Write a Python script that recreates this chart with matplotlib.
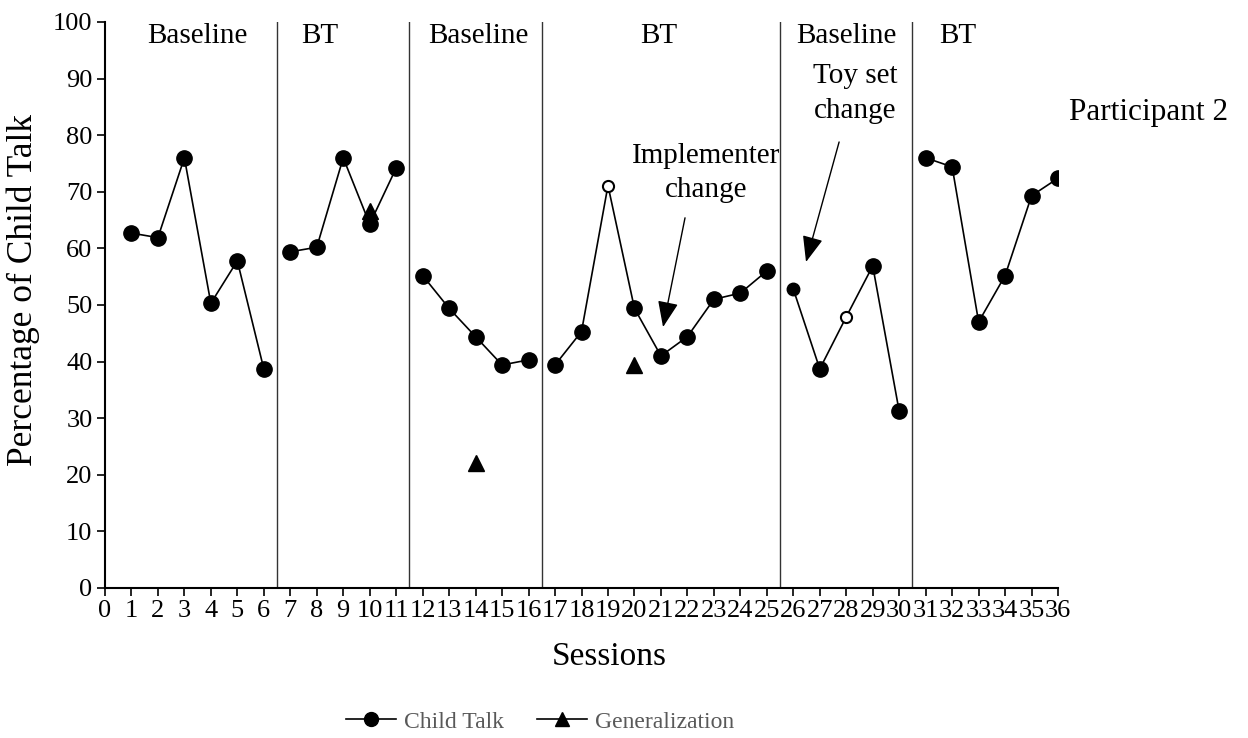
import numpy as np
import matplotlib
matplotlib.use("Agg")
import matplotlib.pyplot as plt
from matplotlib.lines import Line2D

plt.rcParams['font.family'] = ['Liberation Serif', 'DejaVu Serif']

# data
sessions = list(range(1, 37))
child_talk = [62.7, 61.9, 76.0, 50.3, 57.8, 38.7,
              59.4, 60.2, 76.0, 64.3, 74.2,
              55.2, 49.4, 44.4, 39.4, 40.3,
              39.4, 45.3, 71.1, 49.4, 41.0, 44.4, 51.0, 52.1, 56.0,
              52.8, 38.7, 47.9, 56.9, 31.2,
              76.0, 74.4, 47.0, 55.2, 69.3, 72.4]
open_sessions = [19, 28]
gen_sessions = [10, 14, 20]
gen_values = [66.6, 22.0, 39.4]

phase_breaks = [6.5, 11.5, 16.5, 25.5, 30.5]
phase_names = ["Baseline", "BT", "Baseline", "BT", "Baseline", "BT"]
phase_label_x = [3.5, 8.1, 14.1, 20.9, 28.0, 32.2]

fig = plt.figure(figsize=(12.48, 7.38), dpi=100)
ax = fig.add_axes([0.0841, 0.2033, 0.7637, 0.7669])

x = np.array(sessions)
y = np.array(child_talk)
edges = [0] + phase_breaks + [37]
for lo, hi in zip(edges[:-1], edges[1:]):
    m = (x > lo) & (x < hi)
    ax.plot(x[m], y[m], color='black', lw=1.2, zorder=2)

for s, v in zip(sessions, child_talk):
    if s in open_sessions:
        ax.plot(s, v, 'o', ms=8, mfc='white', mec='black', mew=1.5, zorder=3)
    elif s == 26:
        ax.plot(s, v, 'o', ms=9, color='black', zorder=3)
    else:
        ax.plot(s, v, 'o', ms=11, color='black', zorder=3)

ax.plot(gen_sessions, gen_values, '^', ms=11, color='black', ls='none', zorder=4)

for b in phase_breaks:
    ax.axvline(b, color='#333333', lw=1.0, zorder=1)

for name, px in zip(phase_names, phase_label_x):
    ax.text(px, 97.6, name, ha='center', va='center', fontsize=21)

# annotation texts and their arrows
ax.text(22.7, 73.3, "Implementer\nchange", ha='center', va='center',
        fontsize=21, linespacing=1.42)
ax.text(28.35, 87.4, "Toy set\nchange", ha='center', va='center',
        fontsize=21, linespacing=1.42)
arrow = dict(arrowstyle='-|>,head_length=0.8,head_width=0.32',
             color='black', lw=1.0, shrinkA=0, shrinkB=0, mutation_scale=20)
ax.annotate("", xy=(21.08, 46.1), xytext=(21.91, 65.4), arrowprops=arrow)
ax.annotate("", xy=(26.48, 57.6), xytext=(27.73, 78.8), arrowprops=arrow)

fig.text(0.92, 0.847, "Participant 2", ha='center', va='center', fontsize=22.5)

ax.set_xlim(0, 36)
ax.set_ylim(0, 100)
ax.set_xticks(range(0, 37))
ax.set_yticks(range(0, 101, 10))
ax.tick_params(axis='both', direction='out', length=6, width=1.2, labelsize=19, pad=3)
ax.spines['top'].set_visible(False)
ax.spines['right'].set_visible(False)
ax.spines['left'].set_linewidth(1.5)
ax.spines['bottom'].set_linewidth(1.5)
ax.set_xlabel("Sessions", fontsize=24)
ax.set_ylabel("Percentage of Child Talk", fontsize=25.5)
ax.xaxis.set_label_coords(0.529, -0.095)
ax.yaxis.set_label_coords(-0.068, 0.527)

handles = [Line2D([], [], color='black', marker='o', ms=10, lw=1.2),
           Line2D([], [], color='black', marker='^', ms=10, lw=1.2)]
leg = fig.legend(handles, ["Child Talk", "Generalization"], loc='center',
                 bbox_to_anchor=(0.433, 0.022), ncol=2, frameon=False,
                 fontsize=17, handlelength=2.1, handletextpad=0.35, columnspacing=1.4)
for t in leg.get_texts():
    t.set_color('#595959')

fig.savefig("out.png", dpi=100)
